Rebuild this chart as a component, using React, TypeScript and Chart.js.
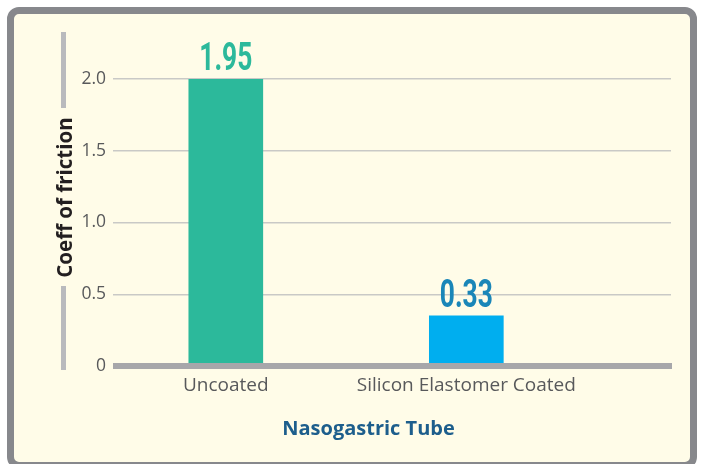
import React, { useEffect, useRef } from "react";
import { Chart, registerables } from "chart.js";

Chart.register(...registerables);

const categories = ["Uncoated", "Silicon Elastomer Coated"];
const barHeights = [2.0, 0.35];
const valueLabels = ["1.95", "0.33"];
const barColors = ["#2cb99b", "#00aeef"];
const labelColors = ["#2cb99b", "#1a86b8"];
const yTicks = [0, 0.5, 1.0, 1.5, 2.0];
const xTitle = "Nasogastric Tube";
const yTitle = "Coeff of friction";

const overlayPlugin = {
  id: "overlay",
  afterDatasetsDraw(chart: any) {
    const ctx = chart.ctx;
    const area = chart.chartArea;
    const yScale = chart.scales.y;
    ctx.save();
    // baseline
    ctx.fillStyle = "#a7a7aa";
    const y0 = yScale.getPixelForValue(0);
    ctx.fillRect(area.left, y0 - 3, area.right - area.left + 1, 6);
    // value labels (condensed)
    ctx.font = "bold 38px Roboto, sans-serif";
    const sx = 53 / ctx.measureText(valueLabels[0]).width;
    const meta = chart.getDatasetMeta(0);
    meta.data.forEach((bar: any, i: number) => {
      ctx.save();
      ctx.translate(bar.x, bar.y - 9);
      ctx.scale(sx, 1);
      ctx.font = "bold 38px Roboto, sans-serif";
      ctx.fillStyle = labelColors[i];
      ctx.textAlign = "center";
      ctx.textBaseline = "alphabetic";
      ctx.fillText(valueLabels[i], 0, 0);
      ctx.restore();
    });
    // y title with decorative bars
    ctx.fillStyle = "#b9babd";
    ctx.fillRect(61, 32, 5, 76);
    ctx.fillRect(61, 286, 5, 84);
    ctx.save();
    ctx.translate(72, 197.5);
    ctx.rotate(-Math.PI / 2);
    ctx.font = "bold 20.5px 'Open Sans', sans-serif";
    ctx.fillStyle = "#231f20";
    ctx.textAlign = "center";
    ctx.textBaseline = "alphabetic";
    ctx.fillText(yTitle, 0, 0);
    ctx.restore();
    // x title
    ctx.font = "bold 20px 'Open Sans', sans-serif";
    ctx.fillStyle = "#1d5e8c";
    ctx.textAlign = "center";
    ctx.textBaseline = "alphabetic";
    ctx.fillText(xTitle, 368.5, 435);
    ctx.restore();
  },
};

export default function App() {
  const ref = useRef<HTMLCanvasElement>(null);
  useEffect(() => {
    if (!ref.current) return;
    const chart = new Chart(ref.current, {
      type: "bar",
      data: {
        datasets: [
          {
            data: barHeights.map((v, i) => ({ x: i, y: v })),
            backgroundColor: barColors,
            barThickness: 74,
            borderWidth: 0,
          },
        ],
      },
      options: {
        animation: false,
        responsive: false,
        maintainAspectRatio: false,
        layout: { padding: { left: 63, right: 31, top: 79, bottom: 0 } },
        plugins: { legend: { display: false }, tooltip: { enabled: false } },
        scales: {
          x: {
            type: "linear",
            offset: false,
            min: -0.469,
            max: 1.851,
            grid: { display: false, drawTicks: false },
            border: { display: false },
            afterBuildTicks: (s: any) => {
              s.ticks = categories.map((_, i) => ({ value: i }));
            },
            afterFit: (s: any) => {
              s.height = 98;
            },
            ticks: {
              padding: 8,
              color: "#58595b",
              font: { family: "'Open Sans', sans-serif", size: 19 },
              callback: (v: any) => categories[v] ?? "",
              maxRotation: 0,
              autoSkip: false,
            },
          },
          y: {
            min: 0,
            max: 2,
            afterBuildTicks: (s: any) => {
              s.ticks = yTicks.map((v) => ({ value: v }));
            },
            afterFit: (s: any) => {
              s.width = 50;
            },
            grid: { color: "#c9c9c6", lineWidth: 1.5, drawTicks: false },
            border: { display: false },
            ticks: {
              padding: 7,
              color: "#58595b",
              font: { family: "'Open Sans', sans-serif", size: 17.5 },
              callback: (v: any) => (v === 0 ? "0" : Number(v).toFixed(1)),
            },
          },
        },
      },
      plugins: [overlayPlugin],
    });
    return () => chart.destroy();
  }, []);

  return (
    <div style={{ position: "fixed", left: 0, top: 0, width: 702, height: 464, background: "#ffffff" }}>
      <div
        style={{
          position: "absolute",
          left: 7,
          top: 7,
          width: 690,
          height: 462,
          boxSizing: "border-box",
          border: "7px solid #87888c",
          borderRadius: 12,
          background: "#fffce8",
        }}
      />
      <canvas ref={ref} width={702} height={464} style={{ position: "absolute", left: 0, top: 0 }} />
    </div>
  );
}
